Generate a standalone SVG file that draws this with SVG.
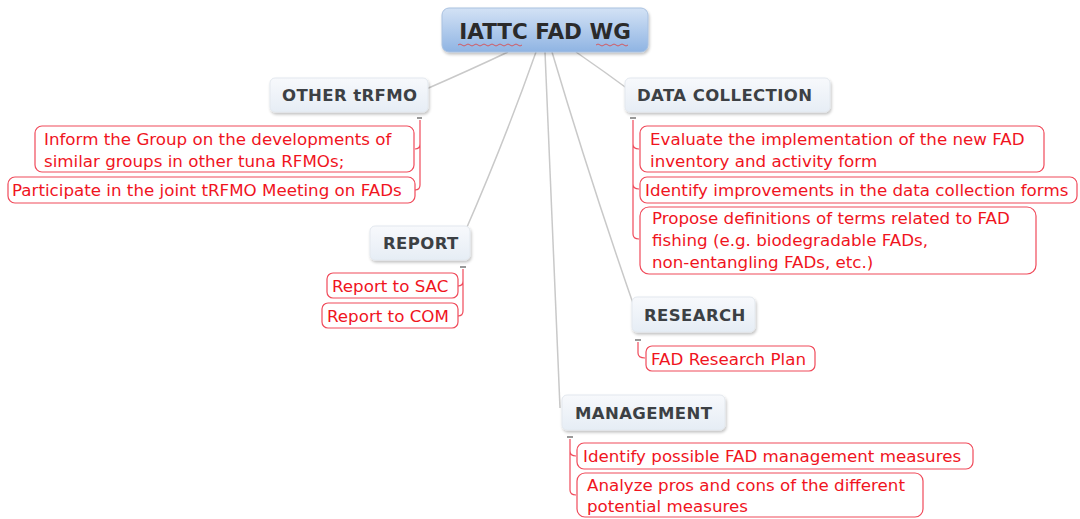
<svg xmlns="http://www.w3.org/2000/svg" width="1080" height="519" viewBox="0 0 1080 519">
<defs>
<linearGradient id="gRoot" x1="0" y1="0" x2="0" y2="1">
<stop offset="0" stop-color="#d3e2f5"/>
<stop offset="1" stop-color="#8fb4e3"/>
</linearGradient>
<linearGradient id="gTopic" x1="0" y1="0" x2="0" y2="1">
<stop offset="0" stop-color="#f7f9fc"/>
<stop offset="1" stop-color="#e6edf5"/>
</linearGradient>
<filter id="sh" x="-10%" y="-20%" width="120%" height="150%">
<feGaussianBlur in="SourceAlpha" stdDeviation="1.5"/>
<feOffset dx="1" dy="2" result="b"/>
<feComponentTransfer><feFuncA type="linear" slope="0.25"/></feComponentTransfer>
<feMerge><feMergeNode/><feMergeNode in="SourceGraphic"/></feMerge>
</filter>
</defs>
<style>
.root{fill:url(#gRoot);stroke:#a9c1e0;stroke-width:1}
.rootT{font-family:"DejaVu Sans",Verdana,sans-serif;font-weight:bold;font-size:21.5px;fill:#2b2b2b}
.topic{fill:url(#gTopic);stroke:#e3e8ee;stroke-width:1}
.topicT{font-family:"DejaVu Sans",Verdana,sans-serif;font-weight:bold;font-size:16.5px;letter-spacing:0.4px;fill:#3c4044}
.sub{fill:#ffffff;stroke:#f04a5a;stroke-width:1.2}
.subT{font-family:"DejaVu Sans",Verdana,sans-serif;font-size:16.7px;fill:#f0141e}
.conn{fill:none;stroke:#c9c9c9;stroke-width:1.5}
.br{fill:none;stroke:#f04a5a;stroke-width:1.2}
.dash{stroke:#555;stroke-width:1.2}
.sq{fill:none;stroke:#e04040;stroke-width:0.8}
</style>

<g id="connectors">
<path class="conn" d="M508,52 Q470,70 424,90"/>
<path class="conn" d="M576,52 Q605,72 632,92"/>
<path class="conn" d="M536,52 Q505,140 464,234"/>
<path class="conn" d="M552,52 Q590,180 636,312"/>
<path class="conn" d="M545,52 Q552,230 560,408"/>
<line class="dash" x1="417" y1="118" x2="422" y2="118"/>
<path class="br" d="M420,120 V144 Q420,149 415,149 M420,144 V185 Q420,190 415,190"/>
<line class="dash" x1="630" y1="118" x2="636" y2="118"/>
<path class="br" d="M633,120 V234 Q633,239 639,239 M633,144 Q633,149 639,149 M633,184 Q633,189 639,189"/>
<line class="dash" x1="460" y1="267" x2="466" y2="267"/>
<path class="br" d="M463,269 V281 Q463,286 458,286 M463,281 V311 Q463,316 458,316"/>
<line class="dash" x1="635" y1="340" x2="641" y2="340"/>
<path class="br" d="M638,342 V353 Q638,358 645,358"/>
<line class="dash" x1="567" y1="437" x2="573" y2="437"/>
<path class="br" d="M570,439 V451 Q570,456 576,456 M570,451 V490 Q570,495 576,495"/>
</g>

<g id="root">
<rect class="root" x="442" y="8" width="206" height="44" rx="7" filter="url(#sh)"/>
<text class="rootT" x="545" y="39" text-anchor="middle">IATTC FAD WG</text>
<path class="sq" d="M458,45 q2,-2 4,0 t4,0 t4,0 t4,0 t4,0 t4,0 t4,0 t4,0 t4,0 t4,0 t4,0 t4,0 t4,0 t4,0 t4,0 t4,0"/>
<path class="sq" d="M596,45 q2,-2 4,0 t4,0 t4,0 t4,0 t4,0 t4,0 t4,0 t4,0"/>
</g>

<g id="other-trfmo">
<rect class="topic" x="270" y="78" width="158" height="34" rx="5" filter="url(#sh)"/>
<text class="topicT" x="282" y="101">OTHER tRFMO</text>
</g>
<g id="other-1">
<rect class="sub" x="35" y="126" width="379" height="46" rx="7"/>
<text class="subT" x="44" y="145">Inform the Group on the developments of</text>
<text class="subT" x="44" y="167">similar groups in other tuna RFMOs;</text>
</g>
<g id="other-2">
<rect class="sub" x="8" y="177" width="407" height="26" rx="7"/>
<text class="subT" x="12" y="196">Participate in the joint tRFMO Meeting on FADs</text>
</g>

<g id="data-collection">
<rect class="topic" x="625" y="78" width="205" height="34" rx="5" filter="url(#sh)"/>
<text class="topicT" x="637" y="101">DATA COLLECTION</text>
</g>
<g id="dc-1">
<rect class="sub" x="640" y="126" width="404" height="46" rx="7"/>
<text class="subT" x="650" y="145">Evaluate the implementation of the new FAD</text>
<text class="subT" x="650" y="167">inventory and activity form</text>
</g>
<g id="dc-2">
<rect class="sub" x="640" y="177" width="437" height="26" rx="7"/>
<text class="subT" x="645" y="196">Identify improvements in the data collection forms</text>
</g>
<g id="dc-3">
<rect class="sub" x="640" y="207" width="396" height="67" rx="9"/>
<text class="subT" x="652" y="224">Propose definitions of terms related to FAD</text>
<text class="subT" x="652" y="246">fishing (e.g. biodegradable FADs,</text>
<text class="subT" x="652" y="268">non-entangling FADs, etc.)</text>
</g>

<g id="report">
<rect class="topic" x="370" y="226" width="100" height="34" rx="5" filter="url(#sh)"/>
<text class="topicT" x="383" y="249">REPORT</text>
</g>
<g id="report-1">
<rect class="sub" x="327" y="273" width="131" height="25" rx="6"/>
<text class="subT" x="332" y="292">Report to SAC</text>
</g>
<g id="report-2">
<rect class="sub" x="322" y="303" width="136" height="25" rx="6"/>
<text class="subT" x="327" y="322">Report to COM</text>
</g>

<g id="research">
<rect class="topic" x="632" y="297" width="123" height="35" rx="5" filter="url(#sh)"/>
<text class="topicT" x="644" y="321">RESEARCH</text>
</g>
<g id="research-1">
<rect class="sub" x="646" y="346" width="169" height="25" rx="6"/>
<text class="subT" x="651" y="365">FAD Research Plan</text>
</g>

<g id="management">
<rect class="topic" x="562" y="395" width="163" height="35" rx="5" filter="url(#sh)"/>
<text class="topicT" x="575" y="419">MANAGEMENT</text>
</g>
<g id="mgmt-1">
<rect class="sub" x="577" y="443" width="396" height="26" rx="7"/>
<text class="subT" x="583" y="462">Identify possible FAD management measures</text>
</g>
<g id="mgmt-2">
<rect class="sub" x="577" y="473" width="346" height="44" rx="8"/>
<text class="subT" x="587" y="491">Analyze pros and cons of the different</text>
<text class="subT" x="587" y="512">potential measures</text>
</g>
</svg>
